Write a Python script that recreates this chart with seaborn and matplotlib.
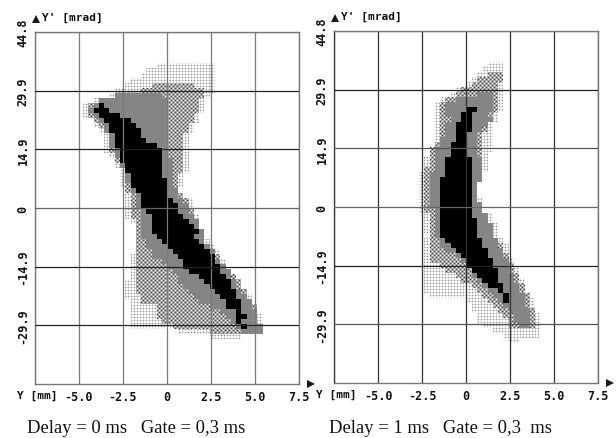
import numpy as np
import matplotlib
matplotlib.use("Agg")
import matplotlib.pyplot as plt
import seaborn as sns

sns.set_theme(style="white")
plt.rcParams['font.family'] = ['DejaVu Sans Mono']

x_ticks = [-7.5, -5.0, -2.5, 0, 2.5, 5.0, 7.5]
x_labels = ['', '-5.0', '-2.5', '0', '2.5', '5.0', '7.5']
y_ticks = [44.8, 29.9, 14.9, 0, -14.9, -29.9]
y_labels = ['44.8', '29.9', '14.9', '0', '-14.9', '-29.9']

n_cols = 50
n_rows = 70
px_w, px_h = 264, 352

# phase space density bins: first row, then left/right bin edge for every row
# delay 0
a_light_start = 6
a_light_l = [23,21,20,18,17,15,14,11,9,9,9,11,11,12,13,13,13,13,14,15,15,16,16,16,16,17,17,17,17,17,17,18,19,19,19,19,19,19,18,18,18,18,18,17,17,17,17,18,18,18,18,18,18,27,33]
a_light_r = [34,34,34,34,34,34,33,32,32,32,31,31,30,30,29,29,29,29,29,29,29,29,28,28,28,27,28,30,30,30,31,31,31,32,32,33,34,35,35,36,36,37,38,39,39,40,41,41,42,42,43,43,43,41,39]
a_mid_start = 10
a_mid_l = [22,20,17,12,10,10,10,11,12,13,14,14,14,14,15,15,16,17,17,17,17,17,18,18,18,18,18,19,19,19,19,19,19,19,19,19,19,19,19,19,19,19,20,20,23,23,23,24,26,33]
a_mid_r = [30,32,32,31,31,31,30,30,29,29,28,28,28,28,28,28,28,28,27,27,27,27,28,29,29,30,30,31,31,32,32,32,33,34,35,35,36,37,38,39,39,40,40,41,42,42,42,42,43,43]
a_dark_start = 12
a_dark_l = [15,12,11,10,11,12,13,13,14,14,14,15,15,16,16,17,17,17,18,18,19,19,19,20,20,20,20,20,20,21,21,22,22,24,25,26,27,27,28,29,30,31,33,35,36,37,38,39]
a_dark_r = [24,25,25,25,25,25,25,25,25,25,25,25,25,26,26,26,26,26,26,27,27,28,29,29,30,31,31,32,32,32,33,34,34,35,36,37,37,38,38,39,40,41,41,42,42,42,43,43]
a_core_start = 14
a_core_l = [12,11,12,13,14,14,15,15,15,16,16,16,17,17,18,18,18,19,20,20,20,21,22,22,22,22,23,24,25,26,27,28,28,29,31,32,33,34,35,36,36,38,38,38,39]
a_core_r = [13,14,16,18,19,20,20,21,23,24,24,24,24,24,24,25,25,25,25,26,27,27,28,29,30,31,30,31,32,33,34,34,35,35,36,37,37,38,38,39,39,39,40,39,40]
# delay 1
b_light_start = 6
b_light_l = [29,28,27,26,25,23,22,20,19,19,19,19,19,19,19,19,19,18,18,17,17,17,16,16,16,16,16,16,16,16,17,17,17,17,18,17,17,17,17,17,17,17,17,17,17,17,18,25,26,26,27,27,28,30,32,33]
b_light_r = [32,32,32,32,32,32,32,32,32,32,31,31,30,30,30,30,30,30,29,29,29,29,28,27,27,27,27,28,28,28,30,30,31,31,31,32,33,33,33,34,34,35,35,36,36,36,37,38,38,38,39,39,39,39,39,35]
b_mid_start = 8
b_mid_l = [29,27,26,24,23,21,20,20,20,20,20,20,20,20,19,18,18,18,18,17,17,17,17,17,17,17,17,17,18,18,18,18,18,18,18,18,18,18,20,21,23,24,26,27,28,29,30,31,32,33,33]
b_mid_r = [32,32,31,31,31,31,31,31,30,30,29,29,28,28,28,28,28,28,28,28,28,28,27,27,27,27,28,28,29,29,30,30,30,31,32,32,33,33,34,34,35,35,36,36,37,37,37,38,38,38,38]
b_dark_start = 12
b_dark_l = [27,23,21,21,21,22,21,21,21,20,20,19,19,19,19,19,18,18,18,18,18,18,18,19,19,19,19,19,19,20,20,21,23,24,25,26,26,27,28,29,30,31,32,33,34,34,35]
b_dark_r = [30,30,30,30,29,30,29,28,27,27,27,27,27,28,28,28,28,28,27,27,27,27,28,28,29,29,30,30,30,31,31,32,32,33,33,33,34,34,35,35,36,36,36,37,37,37,37]
b_core_start = 15
b_core_l = [25,24,24,23,23,23,23,22,22,22,21,21,21,21,20,20,20,20,20,20,20,20,20,20,20,20,21,22,23,24,25,25,26,27,28,29,31,32,32]
b_core_r = [27,26,26,26,26,25,25,25,25,25,26,26,26,26,26,26,26,26,26,26,26,26,27,27,27,27,28,28,29,29,30,30,31,31,31,32,32,33,33]

# screen textures of the old plot, one per density level
tile_blank = [[1.0]]
tile_light = [[0.62, 0.86, 0.86], [0.86, 1.0, 1.0], [0.86, 1.0, 1.0]]
tile_mid = [[0.25, 0.65, 1.0, 0.65], [0.65, 0.65, 0.65, 0.65], [1.0, 0.65, 0.25, 0.65], [0.65, 0.65, 0.65, 0.65]]
tile_dark = [[0.5, 0.54], [0.54, 0.5]]
tile_core = [[0.0]]
tiles = [tile_blank, tile_light, tile_mid, tile_dark, tile_core]


def density(levels):
    mat = np.zeros((n_rows, n_cols), dtype=int)
    for val, (start, left, right) in enumerate(levels, 1):
        for i in range(len(left)):
            mat[start + i, left[i]:right[i]] = val
    return mat


def screen(mat):
    rows = (np.arange(px_h) * n_rows / px_h).astype(int)
    cols = (np.arange(px_w) * n_cols / px_w).astype(int)
    out = np.ones((px_h, px_w))
    for val, tile in enumerate(tiles):
        t = np.array(tile)
        full = np.tile(t, (px_h // t.shape[0] + 1, px_w // t.shape[1] + 1))[:px_h, :px_w]
        mask = mat[rows][:, cols] == val
        out[mask] = full[mask]
    return out


def panel(rect, levels, v_color, h_colors, caption, cap_x):
    ax = fig.add_axes(rect)
    sns.heatmap(screen(density(levels)), ax=ax, cmap='gray', vmin=0, vmax=1,
                cbar=False, xticklabels=False, yticklabels=False)
    xpos = [(v + 7.5) / 15.0 * px_w for v in x_ticks]
    ypos = [(44.8 - v) / 89.6 * px_h for v in y_ticks]
    for p in xpos:
        ax.axvline(p, color=v_color, lw=0.9, zorder=3)
    for p, c in zip(ypos, h_colors):
        ax.axhline(p, color=c, lw=0.9, zorder=3)
    ax.set_xticks(xpos)
    ax.set_xticklabels(x_labels, fontsize=8.5, fontweight='bold')
    ax.set_yticks(ypos)
    ax.set_yticklabels(y_labels, fontsize=8.5, fontweight='bold', rotation=90, va='center')
    ax.tick_params(length=0, pad=4, colors='#111111')
    for s in ax.spines.values():
        s.set_visible(True)
        s.set_color('#777777')
        s.set_linewidth(1.0)
    # axis ends
    ax.plot([0.002], [1.036], marker='^', ms=6, color='k', mew=0, transform=ax.transAxes, clip_on=False)
    ax.plot([1.047], [0.0], marker='>', ms=6, color='k', mew=0, transform=ax.transAxes, clip_on=False)
    ax.text(0.025, 1.042, "Y' [mrad]", transform=ax.transAxes, fontsize=8, va='center', color='#111111', fontweight='bold')
    ax.text(-0.07, -0.03, "Y [mm]", transform=ax.transAxes, fontsize=8, va='center', ha='left', color='#111111', fontweight='bold')
    fig.text(cap_x, 0.024, caption, family='Liberation Serif', fontsize=13.4, color='#111111', va='center')
    return ax


fig = plt.figure(figsize=(6.16, 4.39), dpi=100)
W, H = 616.0, 439.0
panel([35 / W, 1 - 385 / H, 264 / W, 352 / H],
      [(a_light_start, a_light_l, a_light_r), (a_mid_start, a_mid_l, a_mid_r),
       (a_dark_start, a_dark_l, a_dark_r), (a_core_start, a_core_l, a_core_r)],
      '#7a7a7a', ['#777777', '#222222', '#222222', '#666666', '#222222', '#222222'],
      'Delay = 0 ms   Gate = 0,3 ms', 27 / W)
panel([334 / W, 1 - 384 / H, 264 / W, 352 / H],
      [(b_light_start, b_light_l, b_light_r), (b_mid_start, b_mid_l, b_mid_r),
       (b_dark_start, b_dark_l, b_dark_r), (b_core_start, b_core_l, b_core_r)],
      '#333333', ['#777777', '#222222', '#555555', '#666666', '#222222', '#555555'],
      'Delay = 1 ms   Gate = 0,3  ms', 329 / W)

fig.savefig('out.png', dpi=100, facecolor='white')
